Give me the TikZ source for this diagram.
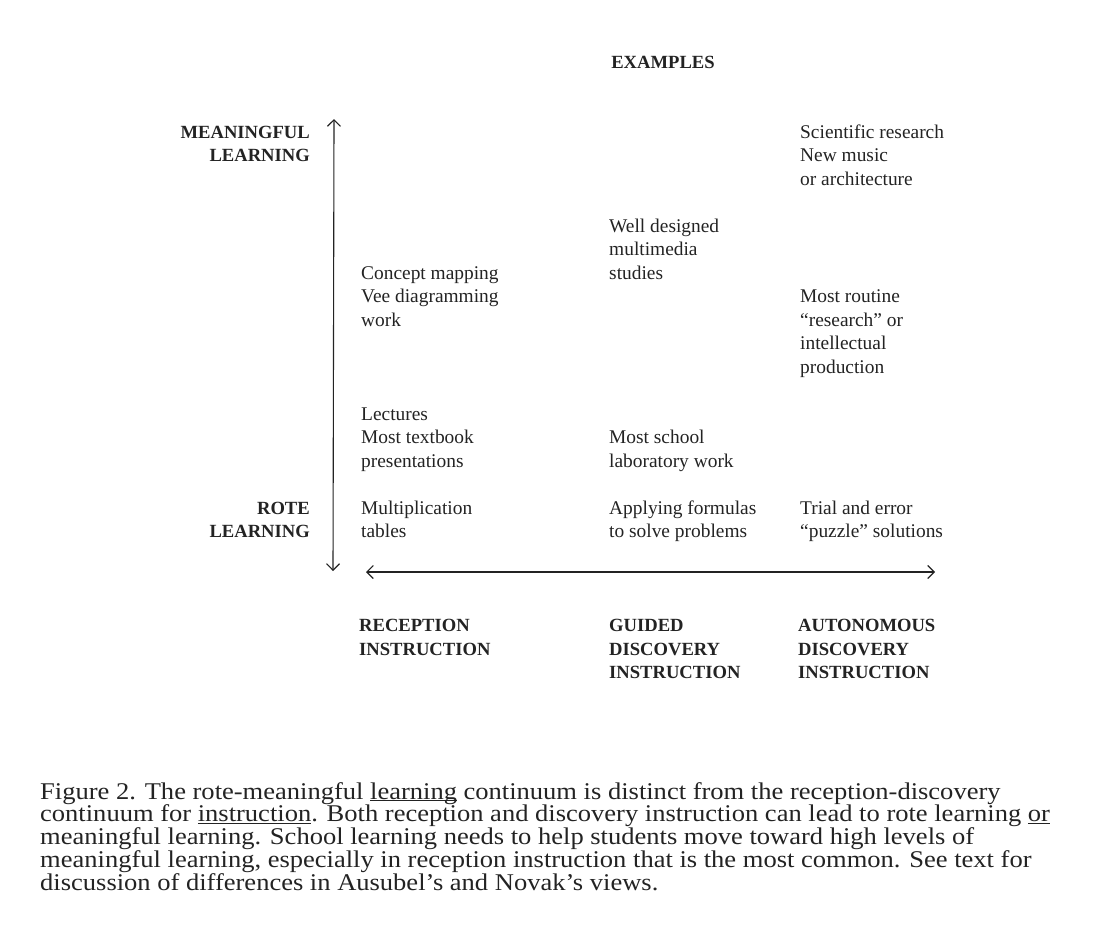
\documentclass[tikz,border=0pt]{standalone}
\usepackage{fontspec}
\setmainfont{Liberation Serif}
\newfontfamily\capfont[FakeStretch=1.105]{Liberation Serif}
\usetikzlibrary{arrows.meta}
\definecolor{ink}{RGB}{35,35,35}
\newcommand\undl[1]{\underline{\smash{#1}}}

\tikzset{
  entry/.style={font=\fontsize{19.4}{23.5}\selectfont,align=left,anchor=base west,inner sep=0pt,text=ink},
  heading/.style={font=\fontsize{18.6}{23.5}\selectfont\bfseries,inner sep=0pt,text=ink},
  caption/.style={font=\capfont\fontsize{24}{23}\selectfont,anchor=base west,inner sep=0pt,text=ink},
  axis/.style={ink,line width=1.1pt,{Straight Barb[length=6.5pt,width=13pt]}-{Straight Barb[length=6.5pt,width=13pt]}},
}

\begin{document}
\begin{tikzpicture}[x=1pt,y=-1pt,line join=round]
\useasboundingbox (0,0) rectangle (1102,938);
\node[heading,anchor=base] (examples) at (663,68) {EXAMPLES};
% learning axis (nodes anchored at the baseline of their last line)
\node[heading,align=right,anchor=base east] (meaningful) at (310,161.5) {MEANINGFUL\\LEARNING};
\node[heading,align=right,anchor=base east] (rote) at (310,537.5) {ROTE\\LEARNING};
\coordinate (top) at (334,119);
\coordinate (bottom) at (333,571);
\draw[axis] (top) -- (bottom);
% instruction axis
\coordinate (left) at (366,572);
\coordinate (right) at (935,572);
\draw[axis] (left) -- (right);
\node[heading,align=left,anchor=base west] (reception) at (359,655) {RECEPTION\\INSTRUCTION};
\node[heading,align=left,anchor=base west] (guided) at (609,678.5) {GUIDED\\DISCOVERY\\INSTRUCTION};
\node[heading,align=left,anchor=base west] (autonomous) at (798,678.5) {AUTONOMOUS\\DISCOVERY\\INSTRUCTION};
% examples
\node[entry] (research) at (800,185) {Scientific research\\New music\\or architecture};
\node[entry] (multimedia) at (609,279) {Well designed\\multimedia\\studies};
\node[entry] (mapping) at (361,326) {Concept mapping\\Vee diagramming\\work};
\node[entry] (routine) at (800,373) {Most routine\\``research'' or\\intellectual\\production};
\node[entry] (lectures) at (361,467) {Lectures\\Most textbook\\presentations};
\node[entry] (lab) at (609,467) {Most school\\laboratory work};
\node[entry] (tables) at (361,537.5) {Multiplication\\tables};
\node[entry] (formulas) at (609,537.5) {Applying formulas\\to solve problems};
\node[entry] (puzzle) at (800,537.5) {Trial and error\\``puzzle'' solutions};
% caption
\node[caption] (cap1) at (40,799) {Figure 2. The rote-meaningful \undl{learning} continuum is distinct from the reception-discovery};
\node[caption] (cap2) at (40,821.5) {continuum for \undl{instruction}. Both reception and discovery instruction can lead to rote learning \undl{or}};
\node[caption] (cap3) at (40,844.5) {meaningful learning. School learning needs to help students move toward high levels of};
\node[caption] (cap4) at (40,867.5) {meaningful learning, especially in reception instruction that is the most common. See text for};
\node[caption] (cap5) at (40,890.5) {discussion of differences in Ausubel’s and Novak’s views.};
\end{tikzpicture}
\end{document}
